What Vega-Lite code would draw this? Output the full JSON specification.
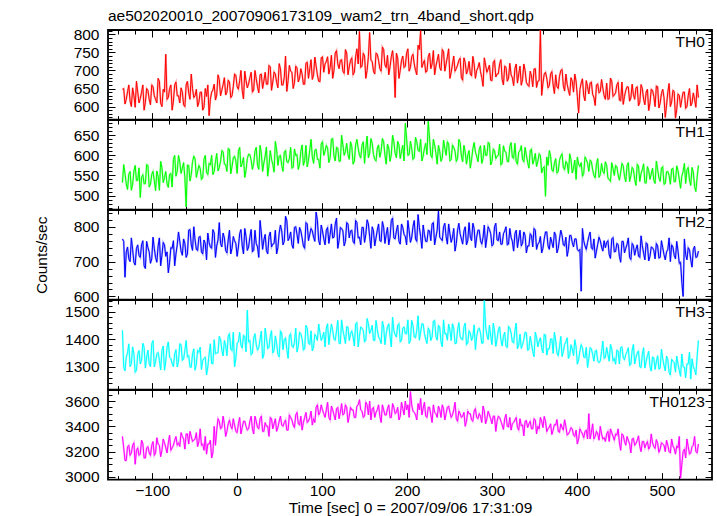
{
"$schema":"https://vega.github.io/schema/vega-lite/v6.json",
"padding":{"left":33,"top":8,"right":6,"bottom":0},
"bounds":"flush",
"title":{"text":"ae502020010_20070906173109_wam2_trn_4band_short.qdp","anchor":"start","frame":"group","offset":-11,"baseline":"alphabetic","fontSize":15.5,"fontWeight":"normal","font":"Liberation Sans","color":"black"},
"data":{"values":[
{"t":-135,"a":648,"b":532,"c":765,"d":1432,"e":3320},
{"t":-132,"a":607,"b":555,"c":655,"d":1285,"e":3130},
{"t":-129,"a":641,"b":515,"c":742,"d":1350,"e":3240},
{"t":-126,"a":615,"b":560,"c":700,"d":1300,"e":3170},
{"t":-123,"a":652,"b":528,"c":735,"d":1372,"e":3250},
{"t":-120,"a":598,"b":575,"c":690,"d":1280,"e":3100},
{"t":-117,"a":640,"b":538,"c":748,"d":1345,"e":3230},
{"t":-114,"a":622,"b":495,"c":712,"d":1310,"e":3180},
{"t":-111,"a":660,"b":552,"c":760,"d":1385,"e":3265},
{"t":-108,"a":612,"b":530,"c":680,"d":1295,"e":3150},
{"t":-105,"a":645,"b":575,"c":740,"d":1360,"e":3240},
{"t":-102,"a":605,"b":528,"c":695,"d":1300,"e":3170},
{"t":-99,"a":655,"b":560,"c":770,"d":1395,"e":3280},
{"t":-96,"a":620,"b":512,"c":712,"d":1318,"e":3190},
{"t":-93,"a":678,"b":548,"c":745,"d":1352,"e":3260},
{"t":-90,"a":610,"b":585,"c":688,"d":1288,"e":3160},
{"t":-87,"a":648,"b":532,"c":755,"d":1375,"e":3300},
{"t":-84,"a":745,"b":560,"c":715,"d":1320,"e":3230},
{"t":-81,"a":625,"b":520,"c":668,"d":1390,"e":3270},
{"t":-78,"a":660,"b":555,"c":740,"d":1330,"e":3210},
{"t":-75,"a":615,"b":590,"c":760,"d":1300,"e":3250},
{"t":-72,"a":668,"b":548,"c":722,"d":1362,"e":3320},
{"t":-69,"a":630,"b":600,"c":785,"d":1320,"e":3270},
{"t":-66,"a":652,"b":555,"c":730,"d":1380,"e":3350},
{"t":-63,"a":605,"b":582,"c":765,"d":1328,"e":3300},
{"t":-60,"a":660,"b":472,"c":712,"d":1395,"e":3340},
{"t":-57,"a":638,"b":575,"c":790,"d":1340,"e":3260},
{"t":-54,"a":690,"b":552,"c":748,"d":1298,"e":3320},
{"t":-51,"a":625,"b":598,"c":800,"d":1365,"e":3290},
{"t":-48,"a":648,"b":545,"c":735,"d":1310,"e":3350},
{"t":-45,"a":612,"b":575,"c":770,"d":1352,"e":3280},
{"t":-42,"a":640,"b":540,"c":728,"d":1290,"e":3250},
{"t":-39,"a":598,"b":590,"c":762,"d":1330,"e":3210},
{"t":-36,"a":628,"b":558,"c":705,"d":1270,"e":3180},
{"t":-33,"a":575,"b":580,"c":755,"d":1345,"e":3260},
{"t":-30,"a":640,"b":600,"c":738,"d":1312,"e":3150},
{"t":-27,"a":662,"b":560,"c":782,"d":1398,"e":3400},
{"t":-24,"a":632,"b":605,"c":745,"d":1350,"e":3370},
{"t":-21,"a":675,"b":570,"c":812,"d":1410,"e":3440},
{"t":-18,"a":645,"b":612,"c":742,"d":1360,"e":3390},
{"t":-15,"a":680,"b":578,"c":768,"d":1395,"e":3420},
{"t":-12,"a":640,"b":560,"c":725,"d":1340,"e":3360},
{"t":-9,"a":668,"b":615,"c":790,"d":1420,"e":3450},
{"t":-6,"a":630,"b":572,"c":738,"d":1358,"e":3380},
{"t":-3,"a":690,"b":598,"c":760,"d":1300,"e":3410},
{"t":0,"a":655,"b":555,"c":715,"d":1385,"e":3350},
{"t":3,"a":672,"b":620,"c":780,"d":1425,"e":3470},
{"t":6,"a":645,"b":580,"c":745,"d":1368,"e":3390},
{"t":9,"a":698,"b":545,"c":795,"d":1410,"e":3440},
{"t":12,"a":652,"b":592,"c":732,"d":1505,"e":3370},
{"t":15,"a":680,"b":602,"c":770,"d":1395,"e":3440},
{"t":18,"a":640,"b":565,"c":728,"d":1350,"e":3380},
{"t":21,"a":700,"b":610,"c":790,"d":1420,"e":3480},
{"t":24,"a":655,"b":575,"c":742,"d":1360,"e":3390},
{"t":27,"a":688,"b":625,"c":818,"d":1400,"e":3460},
{"t":30,"a":650,"b":560,"c":735,"d":1330,"e":3360},
{"t":33,"a":695,"b":598,"c":778,"d":1440,"e":3430},
{"t":36,"a":662,"b":548,"c":722,"d":1365,"e":3400},
{"t":39,"a":710,"b":612,"c":785,"d":1410,"e":3470},
{"t":42,"a":668,"b":578,"c":750,"d":1350,"e":3380},
{"t":45,"a":690,"b":635,"c":790,"d":1412,"e":3460},
{"t":48,"a":652,"b":575,"c":740,"d":1345,"e":3390},
{"t":51,"a":705,"b":600,"c":805,"d":1430,"e":3480},
{"t":54,"a":660,"b":560,"c":748,"d":1362,"e":3400},
{"t":57,"a":740,"b":612,"c":830,"d":1405,"e":3450},
{"t":60,"a":672,"b":582,"c":760,"d":1330,"e":3370},
{"t":63,"a":698,"b":620,"c":785,"d":1420,"e":3470},
{"t":66,"a":650,"b":570,"c":738,"d":1370,"e":3410},
{"t":69,"a":712,"b":600,"c":800,"d":1440,"e":3490},
{"t":72,"a":668,"b":565,"c":752,"d":1375,"e":3420},
{"t":75,"a":705,"b":610,"c":788,"d":1420,"e":3480},
{"t":78,"a":662,"b":575,"c":745,"d":1360,"e":3430},
{"t":81,"a":720,"b":625,"c":812,"d":1450,"e":3510},
{"t":84,"a":678,"b":588,"c":760,"d":1385,"e":3440},
{"t":87,"a":730,"b":640,"c":795,"d":1430,"e":3520},
{"t":90,"a":688,"b":580,"c":770,"d":1372,"e":3460},
{"t":93,"a":712,"b":615,"c":842,"d":1410,"e":3550},
{"t":96,"a":670,"b":590,"c":760,"d":1455,"e":3490},
{"t":99,"a":735,"b":628,"c":805,"d":1395,"e":3570},
{"t":102,"a":695,"b":600,"c":765,"d":1425,"e":3500},
{"t":105,"a":725,"b":625,"c":790,"d":1440,"e":3530},
{"t":108,"a":690,"b":582,"c":752,"d":1380,"e":3470},
{"t":111,"a":742,"b":640,"c":808,"d":1455,"e":3560},
{"t":114,"a":700,"b":598,"c":770,"d":1400,"e":3490},
{"t":117,"a":755,"b":620,"c":825,"d":1430,"e":3540},
{"t":120,"a":705,"b":585,"c":760,"d":1385,"e":3460},
{"t":123,"a":730,"b":650,"c":795,"d":1470,"e":3580},
{"t":126,"a":692,"b":600,"c":745,"d":1410,"e":3500},
{"t":129,"a":748,"b":630,"c":812,"d":1445,"e":3550},
{"t":132,"a":710,"b":590,"c":768,"d":1395,"e":3480},
{"t":135,"a":735,"b":622,"c":790,"d":1430,"e":3530},
{"t":138,"a":695,"b":585,"c":752,"d":1375,"e":3470},
{"t":141,"a":760,"b":640,"c":812,"d":1460,"e":3560},
{"t":144,"a":808,"b":600,"c":770,"d":1410,"e":3610},
{"t":147,"a":712,"b":625,"c":798,"d":1440,"e":3520},
{"t":150,"a":740,"b":580,"c":755,"d":1390,"e":3480},
{"t":153,"a":700,"b":648,"c":820,"d":1475,"e":3570},
{"t":156,"a":805,"b":605,"c":772,"d":1420,"e":3600},
{"t":159,"a":725,"b":630,"c":800,"d":1450,"e":3540},
{"t":162,"a":690,"b":590,"c":745,"d":1395,"e":3470},
{"t":165,"a":745,"b":618,"c":790,"d":1435,"e":3530},
{"t":168,"a":705,"b":595,"c":760,"d":1400,"e":3480},
{"t":171,"a":765,"b":642,"c":815,"d":1465,"e":3570},
{"t":174,"a":715,"b":600,"c":752,"d":1380,"e":3490},
{"t":177,"a":742,"b":628,"c":798,"d":1445,"e":3540},
{"t":180,"a":710,"b":585,"c":770,"d":1410,"e":3470},
{"t":183,"a":755,"b":650,"c":825,"d":1480,"e":3580},
{"t":186,"a":625,"b":605,"c":765,"d":1415,"e":3500},
{"t":189,"a":735,"b":635,"c":805,"d":1450,"e":3550},
{"t":192,"a":700,"b":592,"c":750,"d":1390,"e":3480},
{"t":195,"a":740,"b":625,"c":798,"d":1440,"e":3540},
{"t":198,"a":712,"b":680,"c":772,"d":1420,"e":3600},
{"t":201,"a":760,"b":600,"c":818,"d":1470,"e":3570},
{"t":204,"a":708,"b":635,"c":755,"d":1395,"e":3675},
{"t":207,"a":745,"b":590,"c":800,"d":1450,"e":3520},
{"t":210,"a":700,"b":645,"c":765,"d":1405,"e":3490},
{"t":213,"a":770,"b":612,"c":835,"d":1485,"e":3580},
{"t":216,"a":810,"b":640,"c":772,"d":1425,"e":3620},
{"t":219,"a":720,"b":598,"c":805,"d":1455,"e":3540},
{"t":222,"a":695,"b":630,"c":758,"d":1400,"e":3480},
{"t":225,"a":738,"b":685,"c":790,"d":1440,"e":3550},
{"t":228,"a":705,"b":600,"c":760,"d":1395,"e":3490},
{"t":231,"a":755,"b":640,"c":812,"d":1465,"e":3570},
{"t":234,"a":712,"b":605,"c":770,"d":1410,"e":3500},
{"t":237,"a":745,"b":625,"c":845,"d":1450,"e":3560},
{"t":240,"a":700,"b":585,"c":765,"d":1390,"e":3470},
{"t":243,"a":752,"b":638,"c":800,"d":1470,"e":3540},
{"t":246,"a":718,"b":600,"c":772,"d":1420,"e":3500},
{"t":249,"a":760,"b":628,"c":808,"d":1455,"e":3560},
{"t":252,"a":695,"b":590,"c":755,"d":1395,"e":3470},
{"t":255,"a":740,"b":620,"c":795,"d":1440,"e":3530},
{"t":258,"a":705,"b":585,"c":752,"d":1385,"e":3460},
{"t":261,"a":728,"b":640,"c":810,"d":1460,"e":3520},
{"t":264,"a":680,"b":598,"c":765,"d":1400,"e":3470},
{"t":267,"a":735,"b":625,"c":788,"d":1445,"e":3510},
{"t":270,"a":690,"b":578,"c":748,"d":1380,"e":3440},
{"t":273,"a":725,"b":612,"c":812,"d":1430,"e":3500},
{"t":276,"a":685,"b":590,"c":760,"d":1395,"e":3450},
{"t":279,"a":718,"b":632,"c":795,"d":1452,"e":3520},
{"t":282,"a":700,"b":598,"c":770,"d":1410,"e":3470},
{"t":285,"a":722,"b":615,"c":790,"d":1440,"e":3500},
{"t":288,"a":680,"b":580,"c":750,"d":1385,"e":3430},
{"t":291,"a":735,"b":625,"c":805,"d":1540,"e":3520},
{"t":294,"a":695,"b":600,"c":768,"d":1415,"e":3460},
{"t":297,"a":715,"b":630,"c":792,"d":1450,"e":3490},
{"t":300,"a":672,"b":585,"c":745,"d":1380,"e":3420},
{"t":303,"a":728,"b":612,"c":800,"d":1430,"e":3480},
{"t":306,"a":690,"b":598,"c":762,"d":1400,"e":3440},
{"t":309,"a":718,"b":628,"c":785,"d":1445,"e":3470},
{"t":312,"a":675,"b":580,"c":750,"d":1375,"e":3410},
{"t":315,"a":712,"b":610,"c":788,"d":1425,"e":3460},
{"t":318,"a":670,"b":585,"c":748,"d":1370,"e":3400},
{"t":321,"a":720,"b":622,"c":795,"d":1440,"e":3470},
{"t":324,"a":680,"b":595,"c":758,"d":1390,"e":3420},
{"t":327,"a":705,"b":630,"c":780,"d":1430,"e":3450},
{"t":330,"a":665,"b":578,"c":740,"d":1365,"e":3390},
{"t":333,"a":712,"b":612,"c":790,"d":1418,"e":3460},
{"t":336,"a":675,"b":590,"c":752,"d":1380,"e":3410},
{"t":339,"a":700,"b":620,"c":775,"d":1425,"e":3440},
{"t":342,"a":660,"b":582,"c":745,"d":1360,"e":3390},
{"t":345,"a":698,"b":612,"c":780,"d":1410,"e":3440},
{"t":348,"a":655,"b":578,"c":742,"d":1355,"e":3380},
{"t":351,"a":705,"b":605,"c":790,"d":1425,"e":3450},
{"t":354,"a":670,"b":585,"c":750,"d":1372,"e":3400},
{"t":357,"a":812,"b":600,"c":772,"d":1405,"e":3470},
{"t":360,"a":665,"b":568,"c":738,"d":1350,"e":3390},
{"t":363,"a":695,"b":498,"c":785,"d":1415,"e":3440},
{"t":366,"a":652,"b":575,"c":745,"d":1365,"e":3380},
{"t":369,"a":690,"b":598,"c":770,"d":1400,"e":3420},
{"t":372,"a":660,"b":560,"c":740,"d":1348,"e":3370},
{"t":375,"a":688,"b":592,"c":775,"d":1395,"e":3410},
{"t":378,"a":650,"b":560,"c":738,"d":1340,"e":3360},
{"t":381,"a":700,"b":598,"c":790,"d":1410,"e":3420},
{"t":384,"a":658,"b":570,"c":748,"d":1355,"e":3370},
{"t":387,"a":690,"b":585,"c":770,"d":1390,"e":3400},
{"t":390,"a":645,"b":555,"c":735,"d":1330,"e":3340},
{"t":393,"a":680,"b":590,"c":775,"d":1380,"e":3390},
{"t":396,"a":640,"b":568,"c":742,"d":1340,"e":3330},
{"t":399,"a":670,"b":540,"c":765,"d":1372,"e":3370},
{"t":402,"a":582,"b":578,"c":730,"d":1325,"e":3300},
{"t":405,"a":665,"b":582,"c":615,"d":1380,"e":3360},
{"t":408,"a":630,"b":555,"c":760,"d":1335,"e":3310},
{"t":411,"a":672,"b":590,"c":735,"d":1370,"e":3370},
{"t":414,"a":635,"b":560,"c":772,"d":1330,"e":3500},
{"t":417,"a":668,"b":585,"c":740,"d":1365,"e":3350},
{"t":420,"a":625,"b":550,"c":765,"d":1320,"e":3300},
{"t":423,"a":660,"b":578,"c":730,"d":1360,"e":3360},
{"t":426,"a":638,"b":545,"c":770,"d":1315,"e":3290},
{"t":429,"a":675,"b":580,"c":742,"d":1355,"e":3340},
{"t":432,"a":630,"b":555,"c":760,"d":1330,"e":3310},
{"t":435,"a":665,"b":575,"c":755,"d":1370,"e":3340},
{"t":438,"a":622,"b":540,"c":720,"d":1320,"e":3280},
{"t":441,"a":670,"b":582,"c":765,"d":1365,"e":3350},
{"t":444,"a":632,"b":550,"c":728,"d":1330,"e":3290},
{"t":447,"a":660,"b":572,"c":752,"d":1360,"e":3330},
{"t":450,"a":618,"b":538,"c":715,"d":1310,"e":3270},
{"t":453,"a":668,"b":580,"c":758,"d":1372,"e":3340},
{"t":456,"a":628,"b":548,"c":725,"d":1325,"e":3280},
{"t":459,"a":655,"b":575,"c":750,"d":1355,"e":3320},
{"t":462,"a":615,"b":535,"c":712,"d":1305,"e":3260},
{"t":465,"a":662,"b":570,"c":752,"d":1360,"e":3300},
{"t":468,"a":620,"b":540,"c":718,"d":1310,"e":3250},
{"t":471,"a":655,"b":578,"c":748,"d":1350,"e":3290},
{"t":474,"a":612,"b":535,"c":712,"d":1300,"e":3240},
{"t":477,"a":650,"b":565,"c":745,"d":1345,"e":3280},
{"t":480,"a":605,"b":532,"c":705,"d":1295,"e":3230},
{"t":483,"a":648,"b":572,"c":750,"d":1340,"e":3280},
{"t":486,"a":610,"b":540,"c":715,"d":1300,"e":3240},
{"t":489,"a":645,"b":568,"c":740,"d":1335,"e":3270},
{"t":492,"a":600,"b":530,"c":708,"d":1290,"e":3225},
{"t":495,"a":655,"b":565,"c":745,"d":1340,"e":3265},
{"t":498,"a":610,"b":535,"c":712,"d":1295,"e":3220},
{"t":501,"a":648,"b":572,"c":740,"d":1330,"e":3260},
{"t":504,"a":570,"b":530,"c":705,"d":1285,"e":3200},
{"t":507,"a":640,"b":560,"c":735,"d":1325,"e":3250},
{"t":510,"a":600,"b":528,"c":700,"d":1270,"e":3190},
{"t":513,"a":645,"b":568,"c":742,"d":1320,"e":3245},
{"t":516,"a":568,"b":535,"c":708,"d":1280,"e":3180},
{"t":519,"a":635,"b":562,"c":730,"d":1310,"e":3230},
{"t":522,"a":598,"b":518,"c":698,"d":1265,"e":2990},
{"t":525,"a":640,"b":560,"c":600,"d":1300,"e":3200},
{"t":528,"a":595,"b":530,"c":720,"d":1260,"e":3150},
{"t":531,"a":630,"b":570,"c":740,"d":1310,"e":3240},
{"t":534,"a":602,"b":525,"c":705,"d":1255,"e":3190},
{"t":537,"a":638,"b":558,"c":735,"d":1300,"e":3250},
{"t":540,"a":598,"b":510,"c":712,"d":1270,"e":3200},
{"t":543,"a":625,"b":575,"c":730,"d":1395,"e":3260},
{"t":-133.5,"a":650,"b":577,"c":758,"d":1299,"e":3230},
{"t":-130.5,"a":620,"b":529,"c":728,"d":1335,"e":3130},
{"t":-127.5,"a":660,"b":553,"c":708,"d":1383,"e":3250},
{"t":-124.5,"a":600,"b":513,"c":768,"d":1311,"e":3190},
{"t":-121.5,"a":630,"b":561,"c":698,"d":1347,"e":3270},
{"t":-118.5,"a":670,"b":537,"c":738,"d":1287,"e":3210},
{"t":-115.5,"a":610,"b":569,"c":718,"d":1359,"e":3170},
{"t":-112.5,"a":640,"b":545,"c":748,"d":1323,"e":3290},
{"t":-109.5,"a":590,"b":529,"c":688,"d":1371,"e":3150},
{"t":-106.5,"a":650,"b":577,"c":758,"d":1335,"e":3230},
{"t":-103.5,"a":620,"b":521,"c":728,"d":1311,"e":3190},
{"t":-100.5,"a":660,"b":553,"c":708,"d":1383,"e":3250},
{"t":-97.5,"a":630,"b":537,"c":738,"d":1299,"e":3170},
{"t":-94.5,"a":610,"b":561,"c":698,"d":1347,"e":3310},
{"t":-91.5,"a":670,"b":513,"c":768,"d":1323,"e":3250},
{"t":-88.5,"a":600,"b":569,"c":718,"d":1359,"e":3210},
{"t":-85.5,"a":640,"b":545,"c":748,"d":1287,"e":3270},
{"t":-82.5,"a":620,"b":529,"c":728,"d":1371,"e":3190},
{"t":-79.5,"a":650,"b":553,"c":698,"d":1335,"e":3330},
{"t":-76.5,"a":590,"b":521,"c":738,"d":1311,"e":3230},
{"t":-73.5,"a":660,"b":600,"c":688,"d":1347,"e":3290},
{"t":-70.5,"a":630,"b":560,"c":748,"d":1299,"e":3250},
{"t":-67.5,"a":610,"b":584,"c":758,"d":1383,"e":3240},
{"t":-64.5,"a":640,"b":568,"c":718,"d":1323,"e":3320},
{"t":-61.5,"a":600,"b":544,"c":752,"d":1359,"e":3220},
{"t":-58.5,"a":670,"b":576,"c":722,"d":1335,"e":3340},
{"t":-55.5,"a":620,"b":536,"c":792,"d":1299,"e":3360},
{"t":-52.5,"a":650,"b":584,"c":732,"d":1347,"e":3280},
{"t":-49.5,"a":630,"b":592,"c":762,"d":1287,"e":3300},
{"t":-46.5,"a":600,"b":560,"c":732,"d":1359,"e":3240},
{"t":-43.5,"a":640,"b":568,"c":772,"d":1371,"e":3380},
{"t":-40.5,"a":590,"b":544,"c":722,"d":1323,"e":3260},
{"t":-37.5,"a":650,"b":600,"c":752,"d":1335,"e":3320},
{"t":-34.5,"a":660,"b":552,"c":782,"d":1299,"e":3260},
{"t":-31.5,"a":620,"b":576,"c":742,"d":1383,"e":3290},
{"t":-28.5,"a":646,"b":552,"c":792,"d":1311,"e":3190},
{"t":-25.5,"a":618,"b":584,"c":712,"d":1347,"e":3250},
{"t":-22.5,"a":688,"b":561,"c":762,"d":1351,"e":3460},
{"t":-19.5,"a":630,"b":585,"c":752,"d":1399,"e":3380},
{"t":-16.5,"a":661,"b":609,"c":782,"d":1339,"e":3480},
{"t":-13.5,"a":632,"b":577,"c":732,"d":1376,"e":3320},
{"t":-10.5,"a":673,"b":617,"c":762,"d":1412,"e":3420},
{"t":-7.5,"a":625,"b":554,"c":722,"d":1364,"e":3400},
{"t":-4.5,"a":656,"b":594,"c":772,"d":1425,"e":3460},
{"t":-1.5,"a":687,"b":586,"c":752,"d":1329,"e":3360},
{"t":1.5,"a":648,"b":610,"c":742,"d":1390,"e":3420},
{"t":4.5,"a":700,"b":571,"c":792,"d":1378,"e":3340},
{"t":7.5,"a":621,"b":595,"c":722,"d":1414,"e":3440},
{"t":10.5,"a":672,"b":563,"c":772,"d":1354,"e":3400},
{"t":13.5,"a":663,"b":603,"c":742,"d":1390,"e":3380},
{"t":16.5,"a":695,"b":588,"c":792,"d":1343,"e":3480},
{"t":19.5,"a":646,"b":580,"c":732,"d":1404,"e":3340},
{"t":22.5,"a":677,"b":620,"c":752,"d":1380,"e":3440},
{"t":25.5,"a":638,"b":565,"c":712,"d":1369,"e":3380},
{"t":28.5,"a":690,"b":605,"c":782,"d":1429,"e":3480},
{"t":31.5,"a":671,"b":581,"c":762,"d":1345,"e":3360},
{"t":34.5,"a":662,"b":621,"c":732,"d":1406,"e":3400},
{"t":37.5,"a":714,"b":574,"c":772,"d":1370,"e":3320},
{"t":40.5,"a":645,"b":590,"c":742,"d":1431,"e":3460},
{"t":43.5,"a":696,"b":558,"c":752,"d":1359,"e":3420},
{"t":46.5,"a":667,"b":614,"c":722,"d":1384,"e":3360},
{"t":49.5,"a":719,"b":598,"c":782,"d":1336,"e":3440},
{"t":52.5,"a":660,"b":575,"c":788,"d":1422,"e":3410},
{"t":55.5,"a":681,"b":608,"c":758,"d":1398,"e":3430},
{"t":58.5,"a":642,"b":584,"c":818,"d":1362,"e":3370},
{"t":61.5,"a":714,"b":592,"c":768,"d":1411,"e":3490},
{"t":64.5,"a":695,"b":568,"c":748,"d":1375,"e":3450},
{"t":67.5,"a":666,"b":616,"c":798,"d":1388,"e":3390},
{"t":70.5,"a":707,"b":602,"c":778,"d":1353,"e":3510},
{"t":73.5,"a":679,"b":578,"c":798,"d":1425,"e":3410},
{"t":76.5,"a":690,"b":626,"c":768,"d":1401,"e":3370},
{"t":79.5,"a":662,"b":587,"c":738,"d":1366,"e":3470},
{"t":82.5,"a":723,"b":571,"c":808,"d":1440,"e":3430},
{"t":85.5,"a":704,"b":613,"c":778,"d":1381,"e":3470},
{"t":88.5,"a":675,"b":597,"c":788,"d":1357,"e":3410},
{"t":91.5,"a":737,"b":613,"c":758,"d":1417,"e":3430},
{"t":94.5,"a":688,"b":590,"c":818,"d":1395,"e":3570},
{"t":97.5,"a":669,"b":568,"c":748,"d":1424,"e":3510},
{"t":100.5,"a":738,"b":634,"c":788,"d":1408,"e":3530},
{"t":103.5,"a":718,"b":610,"c":748,"d":1372,"e":3470},
{"t":106.5,"a":738,"b":618,"c":798,"d":1456,"e":3590},
{"t":109.5,"a":708,"b":594,"c":778,"d":1420,"e":3450},
{"t":112.5,"a":678,"b":642,"c":768,"d":1432,"e":3530},
{"t":115.5,"a":748,"b":586,"c":808,"d":1396,"e":3450},
{"t":118.5,"a":718,"b":618,"c":738,"d":1468,"e":3550},
{"t":121.5,"a":728,"b":586,"c":798,"d":1384,"e":3510},
{"t":124.5,"a":698,"b":626,"c":788,"d":1432,"e":3490},
{"t":127.5,"a":758,"b":610,"c":758,"d":1384,"e":3570},
{"t":130.5,"a":688,"b":602,"c":808,"d":1444,"e":3430},
{"t":133.5,"a":728,"b":634,"c":788,"d":1420,"e":3550},
{"t":136.5,"a":688,"b":578,"c":758,"d":1408,"e":3530},
{"t":139.5,"a":738,"b":626,"c":818,"d":1456,"e":3470},
{"t":142.5,"a":718,"b":618,"c":768,"d":1372,"e":3570},
{"t":145.5,"a":708,"b":594,"c":748,"d":1444,"e":3530},
{"t":148.5,"a":748,"b":634,"c":798,"d":1432,"e":3470},
{"t":151.5,"a":678,"b":618,"c":778,"d":1396,"e":3590},
{"t":154.5,"a":738,"b":594,"c":808,"d":1456,"e":3490},
{"t":157.5,"a":728,"b":642,"c":738,"d":1432,"e":3450},
{"t":160.5,"a":698,"b":602,"c":788,"d":1396,"e":3550},
{"t":163.5,"a":748,"b":586,"c":768,"d":1468,"e":3510},
{"t":166.5,"a":728,"b":626,"c":808,"d":1408,"e":3570},
{"t":169.5,"a":698,"b":610,"c":758,"d":1384,"e":3430},
{"t":172.5,"a":758,"b":634,"c":798,"d":1444,"e":3530},
{"t":175.5,"a":708,"b":578,"c":778,"d":1420,"e":3490},
{"t":178.5,"a":688,"b":618,"c":748,"d":1456,"e":3570},
{"t":181.5,"a":738,"b":602,"c":818,"d":1372,"e":3470},
{"t":184.5,"a":718,"b":634,"c":768,"d":1432,"e":3550},
{"t":187.5,"a":748,"b":594,"c":788,"d":1408,"e":3510},
{"t":190.5,"a":678,"b":626,"c":758,"d":1456,"e":3450},
{"t":193.5,"a":728,"b":610,"c":808,"d":1396,"e":3590},
{"t":196.5,"a":708,"b":586,"c":778,"d":1444,"e":3490},
{"t":199.5,"a":748,"b":642,"c":748,"d":1420,"e":3530},
{"t":202.5,"a":698,"b":602,"c":788,"d":1384,"e":3470},
{"t":205.5,"a":738,"b":618,"c":768,"d":1468,"e":3570},
{"t":208.5,"a":718,"b":594,"c":818,"d":1408,"e":3510},
{"t":211.5,"a":688,"b":634,"c":758,"d":1432,"e":3450},
{"t":214.5,"a":758,"b":610,"c":798,"d":1396,"e":3530},
{"t":217.5,"a":708,"b":586,"c":738,"d":1456,"e":3490},
{"t":220.5,"a":728,"b":618,"c":778,"d":1420,"e":3590},
{"t":223.5,"a":698,"b":602,"c":758,"d":1384,"e":3470},
{"t":226.5,"a":748,"b":642,"c":788,"d":1432,"e":3550},
{"t":229.5,"a":718,"b":594,"c":808,"d":1408,"e":3430},
{"t":232.5,"a":688,"b":626,"c":748,"d":1468,"e":3510},
{"t":235.5,"a":728,"b":578,"c":790,"d":1396,"e":3470},
{"t":238.5,"a":708,"b":610,"c":770,"d":1444,"e":3530},
{"t":241.5,"a":758,"b":594,"c":760,"d":1372,"e":3570},
{"t":244.5,"a":698,"b":618,"c":810,"d":1420,"e":3450},
{"t":247.5,"a":738,"b":634,"c":750,"d":1396,"e":3550},
{"t":250.5,"a":678,"b":586,"c":780,"d":1432,"e":3510},
{"t":253.5,"a":718,"b":626,"c":770,"d":1456,"e":3490},
{"t":256.5,"a":698,"b":610,"c":730,"d":1384,"e":3590},
{"t":259.5,"a":715,"b":592,"c":790,"d":1434,"e":3440},
{"t":262.5,"a":734,"b":632,"c":780,"d":1410,"e":3500},
{"t":265.5,"a":673,"b":584,"c":750,"d":1398,"e":3480},
{"t":268.5,"a":722,"b":608,"c":800,"d":1458,"e":3400},
{"t":271.5,"a":701,"b":600,"c":760,"d":1386,"e":3520},
{"t":274.5,"a":690,"b":568,"c":770,"d":1422,"e":3500},
{"t":277.5,"a":739,"b":616,"c":810,"d":1410,"e":3440},
{"t":280.5,"a":678,"b":608,"c":740,"d":1362,"e":3540},
{"t":283.5,"a":708,"b":584,"c":790,"d":1434,"e":3460},
{"t":286.5,"a":697,"b":624,"c":760,"d":1422,"e":3480},
{"t":289.5,"a":656,"b":592,"c":770,"d":1386,"e":3560},
{"t":292.5,"a":715,"b":600,"c":740,"d":1446,"e":3420},
{"t":295.5,"a":704,"b":632,"c":800,"d":1398,"e":3520},
{"t":298.5,"a":673,"b":576,"c":780,"d":1410,"e":3460},
{"t":301.5,"a":722,"b":616,"c":750,"d":1458,"e":3480},
{"t":304.5,"a":682,"b":592,"c":810,"d":1374,"e":3360},
{"t":307.5,"a":691,"b":600,"c":760,"d":1434,"e":3480},
{"t":310.5,"a":730,"b":576,"c":750,"d":1398,"e":3440},
{"t":313.5,"a":660,"b":624,"c":780,"d":1410,"e":3375},
{"t":316.5,"a":709,"b":608,"c":800,"d":1374,"e":3495},
{"t":319.5,"a":679,"b":584,"c":750,"d":1446,"e":3395},
{"t":322.5,"a":688,"b":632,"c":770,"d":1422,"e":3370},
{"t":325.5,"a":658,"b":592,"c":730,"d":1386,"e":3430},
{"t":328.5,"a":718,"b":584,"c":790,"d":1458,"e":3470},
{"t":331.5,"a":690,"b":608,"c":765,"d":1378,"e":3370},
{"t":334.5,"a":659,"b":624,"c":745,"d":1366,"e":3405},
{"t":337.5,"a":718,"b":584,"c":785,"d":1399,"e":3325},
{"t":340.5,"a":667,"b":600,"c":725,"d":1423,"e":3445},
{"t":343.5,"a":656,"b":568,"c":745,"d":1363,"e":3420},
{"t":346.5,"a":685,"b":616,"c":775,"d":1384,"e":3380},
{"t":349.5,"a":704,"b":588,"c":795,"d":1336,"e":3460},
{"t":352.5,"a":653,"b":572,"c":735,"d":1406,"e":3340},
{"t":355.5,"a":672,"b":604,"c":755,"d":1393,"e":3380},
{"t":358.5,"a":631,"b":556,"c":725,"d":1369,"e":3440},
{"t":361.5,"a":690,"b":572,"c":765,"d":1417,"e":3478},
{"t":364.5,"a":679,"b":596,"c":785,"d":1342,"e":3358},
{"t":367.5,"a":658,"b":612,"c":735,"d":1365,"e":3395},
{"t":370.5,"a":697,"b":564,"c":755,"d":1401,"e":3335},
{"t":373.5,"a":636,"b":580,"c":785,"d":1425,"e":3414},
{"t":376.5,"a":655,"b":556,"c":725,"d":1349,"e":3454},
{"t":379.5,"a":684,"b":588,"c":765,"d":1373,"e":3352},
{"t":382.5,"a":703,"b":604,"c":775,"d":1337,"e":3392},
{"t":385.5,"a":643,"b":564,"c":745,"d":1381,"e":3452},
{"t":388.5,"a":662,"b":580,"c":715,"d":1405,"e":3330},
{"t":391.5,"a":631,"b":604,"c":775,"d":1341,"e":3360},
{"t":394.5,"a":670,"b":556,"c":755,"d":1364,"e":3380},
{"t":397.5,"a":690,"b":588,"c":765,"d":1398,"e":3320},
{"t":400.5,"a":628,"b":596,"c":735,"d":1309,"e":3260},
{"t":403.5,"a":647,"b":572,"c":735,"d":1357,"e":3380},
{"t":406.5,"a":677,"b":548,"c":795,"d":1369,"e":3340},
{"t":409.5,"a":616,"b":596,"c":745,"d":1333,"e":3360},
{"t":412.5,"a":655,"b":580,"c":755,"d":1297,"e":3300},
{"t":415.5,"a":665,"b":588,"c":785,"d":1369,"e":3300},
{"t":418.5,"a":634,"b":564,"c":735,"d":1345,"e":3420},
{"t":421.5,"a":603,"b":544,"c":710,"d":1357,"e":3320},
{"t":424.5,"a":663,"b":592,"c":750,"d":1321,"e":3340},
{"t":427.5,"a":642,"b":552,"c":760,"d":1321,"e":3400},
{"t":430.5,"a":651,"b":560,"c":730,"d":1393,"e":3300},
{"t":433.5,"a":620,"b":584,"c":740,"d":1333,"e":3280},
{"t":436.5,"a":620,"b":543,"c":760,"d":1345,"e":3360},
{"t":439.5,"a":679,"b":535,"c":709,"d":1381,"e":3380},
{"t":442.5,"a":628,"b":567,"c":769,"d":1321,"e":3320},
{"t":445.5,"a":638,"b":575,"c":729,"d":1309,"e":3340},
{"t":448.5,"a":667,"b":551,"c":749,"d":1357,"e":3380},
{"t":451.5,"a":616,"b":558,"c":698,"d":1369,"e":3210},
{"t":454.5,"a":606,"b":574,"c":758,"d":1333,"e":3330},
{"t":457.5,"a":645,"b":534,"c":738,"d":1345,"e":3250},
{"t":460.5,"a":654,"b":582,"c":768,"d":1369,"e":3290},
{"t":463.5,"a":624,"b":549,"c":706,"d":1309,"e":3190},
{"t":466.5,"a":633,"b":565,"c":746,"d":1381,"e":3305},
{"t":469.5,"a":652,"b":525,"c":736,"d":1333,"e":3265},
{"t":472.5,"a":602,"b":573,"c":716,"d":1357,"e":3325},
{"t":475.5,"a":661,"b":555,"c":774,"d":1297,"e":3200},
{"t":478.5,"a":620,"b":579,"c":724,"d":1369,"e":3280},
{"t":481.5,"a":640,"b":531,"c":754,"d":1320,"e":3260},
{"t":484.5,"a":589,"b":562,"c":702,"d":1356,"e":3220},
{"t":487.5,"a":648,"b":554,"c":742,"d":1284,"e":3340},
{"t":490.5,"a":628,"b":538,"c":732,"d":1332,"e":3240},
{"t":493.5,"a":657,"b":586,"c":752,"d":1318,"e":3295},
{"t":496.5,"a":596,"b":544,"c":710,"d":1292,"e":3195},
{"t":499.5,"a":636,"b":568,"c":760,"d":1364,"e":3270},
{"t":502.5,"a":625,"b":528,"c":720,"d":1304,"e":3250},
{"t":505.5,"a":604,"b":559,"c":728,"d":1339,"e":3290},
{"t":508.5,"a":664,"b":550,"c":768,"d":1279,"e":3200},
{"t":511.5,"a":613,"b":566,"c":748,"d":1327,"e":3300},
{"t":514.5,"a":642,"b":534,"c":718,"d":1315,"e":3225},
{"t":517.5,"a":592,"b":574,"c":758,"d":1339,"e":3245},
{"t":520.5,"a":631,"b":540,"c":695,"d":1286,"e":3320},
{"t":523.5,"a":620,"b":548,"c":640,"d":1346,"e":3100},
{"t":526.5,"a":640,"b":580,"c":765,"d":1298,"e":3220},
{"t":529.5,"a":600,"b":564,"c":705,"d":1310,"e":3300},
{"t":532.5,"a":650,"b":538,"c":734,"d":1353,"e":3180},
{"t":535.5,"a":610,"b":570,"c":684,"d":1329,"e":3240},
{"t":538.5,"a":620,"b":522,"c":744,"d":1290,"e":3320},
{"t":541.5,"a":660,"b":545,"c":714,"d":1338,"e":3190}
]},
"spacing":0,
"vconcat":[
{"width":604,"height":89.6,
"layer":[
{"mark":{"type":"line","color":"#ff9090","strokeWidth":2,"opacity":0.7},"encoding":{"x":{"field":"t","type":"quantitative","scale":{"domain":[-152,559],"nice":false,"zero":false},"axis":null},"y":{"field":"a","type":"quantitative","scale":{"domain":[564,812],"nice":false,"zero":false},"axis":null}}},
{"mark":{"type":"line","color":"#ff0000","strokeWidth":1},"encoding":{"x":{"field":"t","type":"quantitative","scale":{"domain":[-152,559],"nice":false,"zero":false},"axis":null},"y":{"field":"a","type":"quantitative","scale":{"domain":[564,812],"nice":false,"zero":false},"axis":{"orient":"left","values":[600,650,700,750,800],"format":"d","ticks":false,"tickSize":0,"labelPadding":9,"title":null}}}},
{"mark":{"type":"line","opacity":0},"encoding":{"x":{"field":"t","type":"quantitative","scale":{"domain":[-152,559],"nice":false,"zero":false},"axis":{"orient":"bottom","values":[-100,0,100,200,300,400,500],"labels":false,"tickSize":-7,"maxExtent":0,"title":null}},"y":{"field":"a","type":"quantitative","scale":{"domain":[564,812],"nice":false,"zero":false},"axis":{"orient":"left","values":[600,650,700,750,800],"labels":false,"tickSize":-7,"maxExtent":0,"title":null}}}},
{"mark":{"type":"line","opacity":0},"encoding":{"x":{"field":"t","type":"quantitative","scale":{"domain":[-152,559],"nice":false,"zero":false},"axis":{"orient":"top","values":[-100,0,100,200,300,400,500],"labels":false,"tickSize":-7,"maxExtent":0,"title":null}},"y":{"field":"a","type":"quantitative","scale":{"domain":[564,812],"nice":false,"zero":false},"axis":{"orient":"right","values":[600,650,700,750,800],"labels":false,"tickSize":-7,"maxExtent":0,"title":null}}}},
{"mark":{"type":"line","opacity":0},"encoding":{"x":{"field":"t","type":"quantitative","scale":{"domain":[-152,559],"nice":false,"zero":false},"axis":{"orient":"bottom","values":[-140,-120,-100,-80,-60,-40,-20,0,20,40,60,80,100,120,140,160,180,200,220,240,260,280,300,320,340,360,380,400,420,440,460,480,500,520,540],"labels":false,"tickSize":-4,"maxExtent":0,"title":null}},"y":{"field":"a","type":"quantitative","scale":{"domain":[564,812],"nice":false,"zero":false},"axis":{"orient":"left","values":[570,580,590,600,610,620,630,640,650,660,670,680,690,700,710,720,730,740,750,760,770,780,790,800,810],"labels":false,"tickSize":-4,"maxExtent":0,"title":null}}}},
{"mark":{"type":"line","opacity":0},"encoding":{"x":{"field":"t","type":"quantitative","scale":{"domain":[-152,559],"nice":false,"zero":false},"axis":{"orient":"top","values":[-140,-120,-100,-80,-60,-40,-20,0,20,40,60,80,100,120,140,160,180,200,220,240,260,280,300,320,340,360,380,400,420,440,460,480,500,520,540],"labels":false,"tickSize":-4,"maxExtent":0,"title":null}},"y":{"field":"a","type":"quantitative","scale":{"domain":[564,812],"nice":false,"zero":false},"axis":{"orient":"right","values":[570,580,590,600,610,620,630,640,650,660,670,680,690,700,710,720,730,740,750,760,770,780,790,800,810],"labels":false,"tickSize":-4,"maxExtent":0,"title":null}}}},
{"data":{"values":[{"n":"TH0"}]},"mark":{"type":"text","align":"right","baseline":"alphabetic","fontSize":15.5,"font":"Liberation Sans","color":"black"},"encoding":{"x":{"datum":550.5,"type":"quantitative","scale":{"domain":[-152,559],"nice":false,"zero":false},"axis":null},"y":{"datum":765,"type":"quantitative","scale":{"domain":[564,812],"nice":false,"zero":false},"axis":null},"text":{"field":"n"}}}
],
"resolve":{"axis":{"x":"independent","y":"independent"}}},
{"width":604,"height":89.6,
"layer":[
{"mark":{"type":"line","color":"#90ff90","strokeWidth":2,"opacity":0.7},"encoding":{"x":{"field":"t","type":"quantitative","scale":{"domain":[-152,559],"nice":false,"zero":false},"axis":null},"y":{"field":"b","type":"quantitative","scale":{"domain":[465,688],"nice":false,"zero":false},"axis":null}}},
{"mark":{"type":"line","color":"#00ff00","strokeWidth":1},"encoding":{"x":{"field":"t","type":"quantitative","scale":{"domain":[-152,559],"nice":false,"zero":false},"axis":null},"y":{"field":"b","type":"quantitative","scale":{"domain":[465,688],"nice":false,"zero":false},"axis":{"orient":"left","values":[500,550,600,650],"format":"d","ticks":false,"tickSize":0,"labelPadding":9,"title":null}}}},
{"mark":{"type":"line","opacity":0},"encoding":{"x":{"field":"t","type":"quantitative","scale":{"domain":[-152,559],"nice":false,"zero":false},"axis":{"orient":"bottom","values":[-100,0,100,200,300,400,500],"labels":false,"tickSize":-7,"maxExtent":0,"title":null}},"y":{"field":"b","type":"quantitative","scale":{"domain":[465,688],"nice":false,"zero":false},"axis":{"orient":"left","values":[500,550,600,650],"labels":false,"tickSize":-7,"maxExtent":0,"title":null}}}},
{"mark":{"type":"line","opacity":0},"encoding":{"x":{"field":"t","type":"quantitative","scale":{"domain":[-152,559],"nice":false,"zero":false},"axis":{"orient":"top","values":[-100,0,100,200,300,400,500],"labels":false,"tickSize":-7,"maxExtent":0,"title":null}},"y":{"field":"b","type":"quantitative","scale":{"domain":[465,688],"nice":false,"zero":false},"axis":{"orient":"right","values":[500,550,600,650],"labels":false,"tickSize":-7,"maxExtent":0,"title":null}}}},
{"mark":{"type":"line","opacity":0},"encoding":{"x":{"field":"t","type":"quantitative","scale":{"domain":[-152,559],"nice":false,"zero":false},"axis":{"orient":"bottom","values":[-140,-120,-100,-80,-60,-40,-20,0,20,40,60,80,100,120,140,160,180,200,220,240,260,280,300,320,340,360,380,400,420,440,460,480,500,520,540],"labels":false,"tickSize":-4,"maxExtent":0,"title":null}},"y":{"field":"b","type":"quantitative","scale":{"domain":[465,688],"nice":false,"zero":false},"axis":{"orient":"left","values":[470,480,490,500,510,520,530,540,550,560,570,580,590,600,610,620,630,640,650,660,670,680],"labels":false,"tickSize":-4,"maxExtent":0,"title":null}}}},
{"mark":{"type":"line","opacity":0},"encoding":{"x":{"field":"t","type":"quantitative","scale":{"domain":[-152,559],"nice":false,"zero":false},"axis":{"orient":"top","values":[-140,-120,-100,-80,-60,-40,-20,0,20,40,60,80,100,120,140,160,180,200,220,240,260,280,300,320,340,360,380,400,420,440,460,480,500,520,540],"labels":false,"tickSize":-4,"maxExtent":0,"title":null}},"y":{"field":"b","type":"quantitative","scale":{"domain":[465,688],"nice":false,"zero":false},"axis":{"orient":"right","values":[470,480,490,500,510,520,530,540,550,560,570,580,590,600,610,620,630,640,650,660,670,680],"labels":false,"tickSize":-4,"maxExtent":0,"title":null}}}},
{"data":{"values":[{"n":"TH1"}]},"mark":{"type":"text","align":"right","baseline":"alphabetic","fontSize":15.5,"font":"Liberation Sans","color":"black"},"encoding":{"x":{"datum":550.5,"type":"quantitative","scale":{"domain":[-152,559],"nice":false,"zero":false},"axis":null},"y":{"datum":645.6,"type":"quantitative","scale":{"domain":[465,688],"nice":false,"zero":false},"axis":null},"text":{"field":"n"}}}
],
"resolve":{"axis":{"x":"independent","y":"independent"}}},
{"width":604,"height":89.6,
"layer":[
{"mark":{"type":"line","color":"#9090ff","strokeWidth":2,"opacity":0.7},"encoding":{"x":{"field":"t","type":"quantitative","scale":{"domain":[-152,559],"nice":false,"zero":false},"axis":null},"y":{"field":"c","type":"quantitative","scale":{"domain":[591,848],"nice":false,"zero":false},"axis":null}}},
{"mark":{"type":"line","color":"#0000ff","strokeWidth":1},"encoding":{"x":{"field":"t","type":"quantitative","scale":{"domain":[-152,559],"nice":false,"zero":false},"axis":null},"y":{"field":"c","type":"quantitative","scale":{"domain":[591,848],"nice":false,"zero":false},"axis":{"orient":"left","values":[600,700,800],"format":"d","ticks":false,"tickSize":0,"labelPadding":9,"title":"Counts/sec","titlePadding":24}}}},
{"mark":{"type":"line","opacity":0},"encoding":{"x":{"field":"t","type":"quantitative","scale":{"domain":[-152,559],"nice":false,"zero":false},"axis":{"orient":"bottom","values":[-100,0,100,200,300,400,500],"labels":false,"tickSize":-7,"maxExtent":0,"title":null}},"y":{"field":"c","type":"quantitative","scale":{"domain":[591,848],"nice":false,"zero":false},"axis":{"orient":"left","values":[600,700,800],"labels":false,"tickSize":-7,"maxExtent":0,"title":null}}}},
{"mark":{"type":"line","opacity":0},"encoding":{"x":{"field":"t","type":"quantitative","scale":{"domain":[-152,559],"nice":false,"zero":false},"axis":{"orient":"top","values":[-100,0,100,200,300,400,500],"labels":false,"tickSize":-7,"maxExtent":0,"title":null}},"y":{"field":"c","type":"quantitative","scale":{"domain":[591,848],"nice":false,"zero":false},"axis":{"orient":"right","values":[600,700,800],"labels":false,"tickSize":-7,"maxExtent":0,"title":null}}}},
{"mark":{"type":"line","opacity":0},"encoding":{"x":{"field":"t","type":"quantitative","scale":{"domain":[-152,559],"nice":false,"zero":false},"axis":{"orient":"bottom","values":[-140,-120,-100,-80,-60,-40,-20,0,20,40,60,80,100,120,140,160,180,200,220,240,260,280,300,320,340,360,380,400,420,440,460,480,500,520,540],"labels":false,"tickSize":-4,"maxExtent":0,"title":null}},"y":{"field":"c","type":"quantitative","scale":{"domain":[591,848],"nice":false,"zero":false},"axis":{"orient":"left","values":[600,620,640,660,680,700,720,740,760,780,800,820,840],"labels":false,"tickSize":-4,"maxExtent":0,"title":null}}}},
{"mark":{"type":"line","opacity":0},"encoding":{"x":{"field":"t","type":"quantitative","scale":{"domain":[-152,559],"nice":false,"zero":false},"axis":{"orient":"top","values":[-140,-120,-100,-80,-60,-40,-20,0,20,40,60,80,100,120,140,160,180,200,220,240,260,280,300,320,340,360,380,400,420,440,460,480,500,520,540],"labels":false,"tickSize":-4,"maxExtent":0,"title":null}},"y":{"field":"c","type":"quantitative","scale":{"domain":[591,848],"nice":false,"zero":false},"axis":{"orient":"right","values":[600,620,640,660,680,700,720,740,760,780,800,820,840],"labels":false,"tickSize":-4,"maxExtent":0,"title":null}}}},
{"data":{"values":[{"n":"TH2"}]},"mark":{"type":"text","align":"right","baseline":"alphabetic","fontSize":15.5,"font":"Liberation Sans","color":"black"},"encoding":{"x":{"datum":550.5,"type":"quantitative","scale":{"domain":[-152,559],"nice":false,"zero":false},"axis":null},"y":{"datum":799.2,"type":"quantitative","scale":{"domain":[591,848],"nice":false,"zero":false},"axis":null},"text":{"field":"n"}}}
],
"resolve":{"axis":{"x":"independent","y":"independent"}}},
{"width":604,"height":89.6,
"layer":[
{"mark":{"type":"line","color":"#90ffff","strokeWidth":2,"opacity":0.7},"encoding":{"x":{"field":"t","type":"quantitative","scale":{"domain":[-152,559],"nice":false,"zero":false},"axis":null},"y":{"field":"d","type":"quantitative","scale":{"domain":[1217,1542],"nice":false,"zero":false},"axis":null}}},
{"mark":{"type":"line","color":"#00ffff","strokeWidth":1},"encoding":{"x":{"field":"t","type":"quantitative","scale":{"domain":[-152,559],"nice":false,"zero":false},"axis":null},"y":{"field":"d","type":"quantitative","scale":{"domain":[1217,1542],"nice":false,"zero":false},"axis":{"orient":"left","values":[1300,1400,1500],"format":"d","ticks":false,"tickSize":0,"labelPadding":9,"title":null}}}},
{"mark":{"type":"line","opacity":0},"encoding":{"x":{"field":"t","type":"quantitative","scale":{"domain":[-152,559],"nice":false,"zero":false},"axis":{"orient":"bottom","values":[-100,0,100,200,300,400,500],"labels":false,"tickSize":-7,"maxExtent":0,"title":null}},"y":{"field":"d","type":"quantitative","scale":{"domain":[1217,1542],"nice":false,"zero":false},"axis":{"orient":"left","values":[1300,1400,1500],"labels":false,"tickSize":-7,"maxExtent":0,"title":null}}}},
{"mark":{"type":"line","opacity":0},"encoding":{"x":{"field":"t","type":"quantitative","scale":{"domain":[-152,559],"nice":false,"zero":false},"axis":{"orient":"top","values":[-100,0,100,200,300,400,500],"labels":false,"tickSize":-7,"maxExtent":0,"title":null}},"y":{"field":"d","type":"quantitative","scale":{"domain":[1217,1542],"nice":false,"zero":false},"axis":{"orient":"right","values":[1300,1400,1500],"labels":false,"tickSize":-7,"maxExtent":0,"title":null}}}},
{"mark":{"type":"line","opacity":0},"encoding":{"x":{"field":"t","type":"quantitative","scale":{"domain":[-152,559],"nice":false,"zero":false},"axis":{"orient":"bottom","values":[-140,-120,-100,-80,-60,-40,-20,0,20,40,60,80,100,120,140,160,180,200,220,240,260,280,300,320,340,360,380,400,420,440,460,480,500,520,540],"labels":false,"tickSize":-4,"maxExtent":0,"title":null}},"y":{"field":"d","type":"quantitative","scale":{"domain":[1217,1542],"nice":false,"zero":false},"axis":{"orient":"left","values":[1220,1240,1260,1280,1300,1320,1340,1360,1380,1400,1420,1440,1460,1480,1500,1520,1540],"labels":false,"tickSize":-4,"maxExtent":0,"title":null}}}},
{"mark":{"type":"line","opacity":0},"encoding":{"x":{"field":"t","type":"quantitative","scale":{"domain":[-152,559],"nice":false,"zero":false},"axis":{"orient":"top","values":[-140,-120,-100,-80,-60,-40,-20,0,20,40,60,80,100,120,140,160,180,200,220,240,260,280,300,320,340,360,380,400,420,440,460,480,500,520,540],"labels":false,"tickSize":-4,"maxExtent":0,"title":null}},"y":{"field":"d","type":"quantitative","scale":{"domain":[1217,1542],"nice":false,"zero":false},"axis":{"orient":"right","values":[1220,1240,1260,1280,1300,1320,1340,1360,1380,1400,1420,1440,1460,1480,1500,1520,1540],"labels":false,"tickSize":-4,"maxExtent":0,"title":null}}}},
{"data":{"values":[{"n":"TH3"}]},"mark":{"type":"text","align":"right","baseline":"alphabetic","fontSize":15.5,"font":"Liberation Sans","color":"black"},"encoding":{"x":{"datum":550.5,"type":"quantitative","scale":{"domain":[-152,559],"nice":false,"zero":false},"axis":null},"y":{"datum":1480,"type":"quantitative","scale":{"domain":[1217,1542],"nice":false,"zero":false},"axis":null},"text":{"field":"n"}}}
],
"resolve":{"axis":{"x":"independent","y":"independent"}}},
{"width":604,"height":89.6,
"layer":[
{"mark":{"type":"line","color":"#ff90ff","strokeWidth":2,"opacity":0.7},"encoding":{"x":{"field":"t","type":"quantitative","scale":{"domain":[-152,559],"nice":false,"zero":false},"axis":null},"y":{"field":"e","type":"quantitative","scale":{"domain":[2979,3687],"nice":false,"zero":false},"axis":null}}},
{"mark":{"type":"line","color":"#ff00ff","strokeWidth":1},"encoding":{"x":{"field":"t","type":"quantitative","scale":{"domain":[-152,559],"nice":false,"zero":false},"axis":{"orient":"bottom","values":[-100,0,100,200,300,400,500],"ticks":false,"tickSize":0,"labelPadding":4,"title":"Time [sec] 0 = 2007/09/06 17:31:09","titlePadding":1}},"y":{"field":"e","type":"quantitative","scale":{"domain":[2979,3687],"nice":false,"zero":false},"axis":{"orient":"left","values":[3000,3200,3400,3600],"format":"d","ticks":false,"tickSize":0,"labelPadding":9,"title":null}}}},
{"mark":{"type":"line","opacity":0},"encoding":{"x":{"field":"t","type":"quantitative","scale":{"domain":[-152,559],"nice":false,"zero":false},"axis":{"orient":"bottom","values":[-100,0,100,200,300,400,500],"labels":false,"tickSize":-7,"maxExtent":0,"title":null}},"y":{"field":"e","type":"quantitative","scale":{"domain":[2979,3687],"nice":false,"zero":false},"axis":{"orient":"left","values":[3000,3200,3400,3600],"labels":false,"tickSize":-7,"maxExtent":0,"title":null}}}},
{"mark":{"type":"line","opacity":0},"encoding":{"x":{"field":"t","type":"quantitative","scale":{"domain":[-152,559],"nice":false,"zero":false},"axis":{"orient":"top","values":[-100,0,100,200,300,400,500],"labels":false,"tickSize":-7,"maxExtent":0,"title":null}},"y":{"field":"e","type":"quantitative","scale":{"domain":[2979,3687],"nice":false,"zero":false},"axis":{"orient":"right","values":[3000,3200,3400,3600],"labels":false,"tickSize":-7,"maxExtent":0,"title":null}}}},
{"mark":{"type":"line","opacity":0},"encoding":{"x":{"field":"t","type":"quantitative","scale":{"domain":[-152,559],"nice":false,"zero":false},"axis":{"orient":"bottom","values":[-140,-120,-100,-80,-60,-40,-20,0,20,40,60,80,100,120,140,160,180,200,220,240,260,280,300,320,340,360,380,400,420,440,460,480,500,520,540],"labels":false,"tickSize":-4,"maxExtent":0,"title":null}},"y":{"field":"e","type":"quantitative","scale":{"domain":[2979,3687],"nice":false,"zero":false},"axis":{"orient":"left","values":[3000,3050,3100,3150,3200,3250,3300,3350,3400,3450,3500,3550,3600,3650],"labels":false,"tickSize":-4,"maxExtent":0,"title":null}}}},
{"mark":{"type":"line","opacity":0},"encoding":{"x":{"field":"t","type":"quantitative","scale":{"domain":[-152,559],"nice":false,"zero":false},"axis":{"orient":"top","values":[-140,-120,-100,-80,-60,-40,-20,0,20,40,60,80,100,120,140,160,180,200,220,240,260,280,300,320,340,360,380,400,420,440,460,480,500,520,540],"labels":false,"tickSize":-4,"maxExtent":0,"title":null}},"y":{"field":"e","type":"quantitative","scale":{"domain":[2979,3687],"nice":false,"zero":false},"axis":{"orient":"right","values":[3000,3050,3100,3150,3200,3250,3300,3350,3400,3450,3500,3550,3600,3650],"labels":false,"tickSize":-4,"maxExtent":0,"title":null}}}},
{"data":{"values":[{"n":"TH0123"}]},"mark":{"type":"text","align":"right","baseline":"alphabetic","fontSize":15.5,"font":"Liberation Sans","color":"black"},"encoding":{"x":{"datum":550.5,"type":"quantitative","scale":{"domain":[-152,559],"nice":false,"zero":false},"axis":null},"y":{"datum":3552,"type":"quantitative","scale":{"domain":[2979,3687],"nice":false,"zero":false},"axis":null},"text":{"field":"n"}}}
],
"resolve":{"axis":{"x":"independent","y":"independent"}}}
],
"config":{
"font":"Liberation Sans",
"view":{"stroke":"black","strokeWidth":1.8},
"axis":{"domain":false,"grid":false,"minExtent":0,"tickColor":"black","tickWidth":1,"labelFont":"Liberation Sans","labelFontSize":15.5,"labelColor":"black","labelFlush":false,"labelOverlap":false,"titleFont":"Liberation Sans","titleFontSize":15.5,"titleFontWeight":"normal","titleColor":"black"}
}
}
